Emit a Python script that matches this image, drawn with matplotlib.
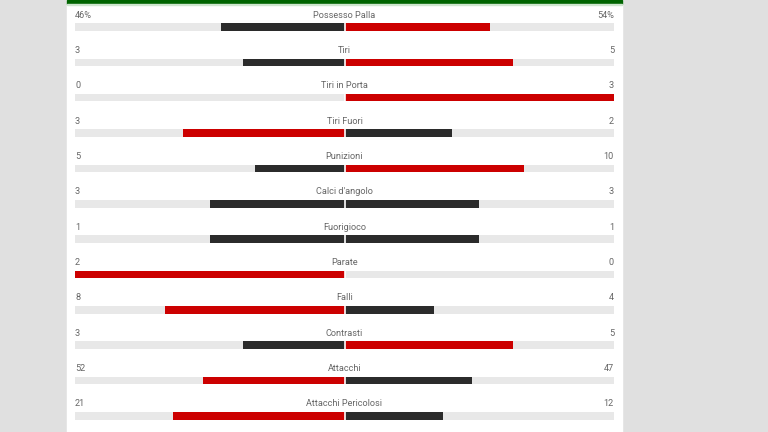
import matplotlib
matplotlib.use('Agg')
import matplotlib.pyplot as plt

# ── dati ─────────────────────────────────────────────
labels = ['Possesso Palla', 'Tiri', 'Tiri in Porta', 'Tiri Fuori', 'Punizioni',
          "Calci d'angolo", 'Fuorigioco', 'Parate', 'Falli', 'Contrasti',
          'Attacchi', 'Attacchi Pericolosi']
home = [46, 3, 0, 3, 5, 3, 1, 2, 8, 3, 52, 21]
away = [54, 5, 3, 2, 10, 3, 1, 0, 4, 5, 47, 12]
suffix = ['%', '', '', '', '', '', '', '', '', '', '', '']

RED = '#cc0000'
DARK = '#2b2b2b'
TRACK = '#e8e8e8'
TXT = '#666666'
BG = '#e0e0e0'
GREEN = '#006400'

plt.rcParams['font.family'] = ['Roboto', 'DejaVu Sans']

fig = plt.figure(figsize=(7.68, 4.32), dpi=100)
fig.patch.set_facecolor(BG)
ax = fig.add_axes([0, 0, 1, 1])
ax.set_facecolor(BG)

# pixel -> dati: x_px = 344.5 + 269.5*x, y_px = 27 + 35.36*riga
PX_X = 269.5
PX_Y = 35.36
ax.set_xlim(-344.5 / PX_X, (768 - 344.5) / PX_X)
ylim_top = -27 / PX_Y
ax.set_ylim((432 - 27) / PX_Y, ylim_top)
ax.axis('off')

# pannello bianco + barra verde in alto
ax.axvspan((66.7 - 344.5) / PX_X, (622 - 344.5) / PX_X, color='white', zorder=0)
ax.axhspan(ylim_top, ylim_top + 4 / PX_Y, xmin=66.7 / 768, xmax=622 / 768,
           color=GREEN, zorder=1)
ax.axhspan(ylim_top + 4 / PX_Y, ylim_top + 5 / PX_Y, xmin=66.7 / 768, xmax=622 / 768,
           color='#cfe6cf', zorder=1)

bh = 7.5 / PX_Y
for i, (lab, h, a, suf) in enumerate(zip(labels, home, away, suffix)):
    tot = h + a
    fh = h / tot if tot else 0
    fa = a / tot if tot else 0
    ch = RED if h > a else DARK
    ca = RED if a > h else DARK

    ax.barh(i, 2, left=-1, height=bh, color=TRACK, zorder=2)
    ax.barh(i, -fh, left=0, height=bh, color=ch, zorder=3)
    ax.barh(i, fa, left=0, height=bh, color=ca, zorder=3)
    ax.plot([0, 0], [i - bh / 2, i + bh / 2], color='white', lw=1.2,
            solid_capstyle='butt', zorder=4)

    ty = i - 12 / PX_Y
    ax.text(0, ty, lab, ha='center', va='center', fontsize=6.6, color=TXT)
    ax.text(-1, ty, f'{h}{suf}', ha='left', va='center', fontsize=6.6, color=TXT)
    ax.text(1, ty, f'{a}{suf}', ha='right', va='center', fontsize=6.6, color=TXT)

fig.savefig('out.png', dpi=100, facecolor=BG)
